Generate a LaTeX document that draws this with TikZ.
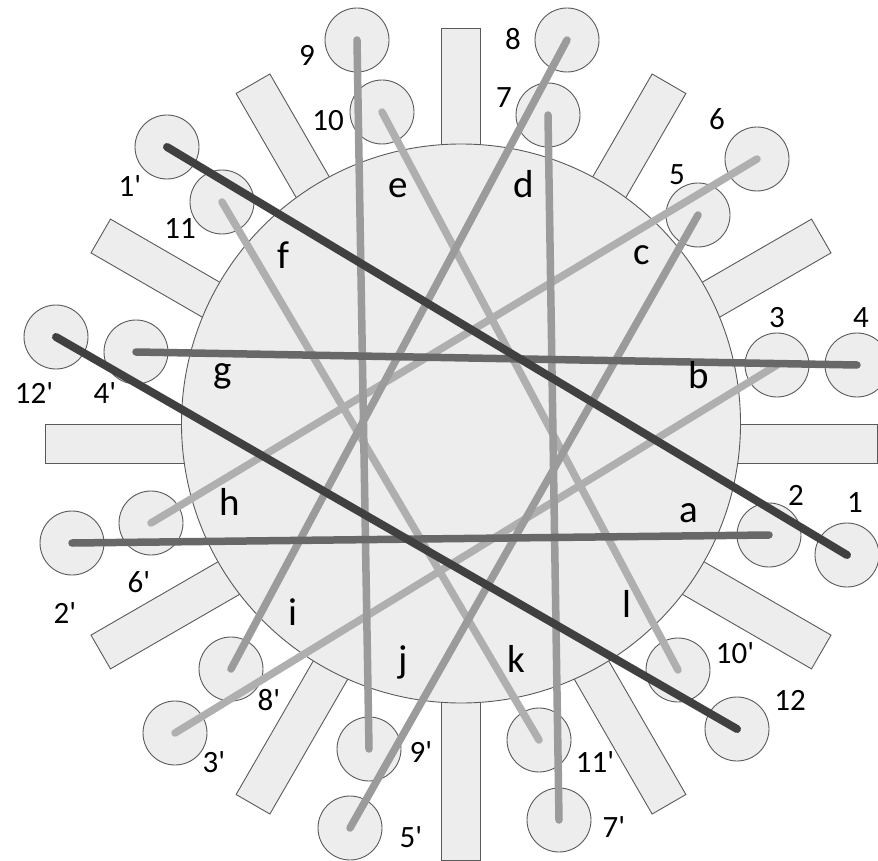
\documentclass[tikz,border=0pt]{standalone}
\usepackage{fontspec}
\setmainfont{Carlito}
\definecolor{panefill}{RGB}{237, 237, 237}
\definecolor{edgegray}{RGB}{90, 90, 90}
\definecolor{wiredark}{RGB}{64, 64, 64}
\definecolor{wiremid}{RGB}{104, 104, 104}
\definecolor{wiregray}{RGB}{155, 155, 155}
\definecolor{wirelight}{RGB}{175, 175, 175}
\newcommand{\pr}[1]{#1\textquotesingle}

\begin{document}
\begin{tikzpicture}[
    x=1pt, y=-1pt,
    spoke/.style={
        draw=edgegray,
        fill=panefill,
        line width=0.9pt,
        minimum width=832pt,
        minimum height=39pt,
        inner sep=0pt,
    },
    hub/.style={
        draw=edgegray,
        fill=panefill,
        line width=0.9pt,
        circle,
        inner sep=0pt,
        minimum size=559pt,
    },
    knob/.style={
        draw=edgegray,
        fill=panefill,
        line width=0.9pt,
        circle,
        inner sep=0pt,
        minimum size=64pt,
    },
    wire/.style={line width=7.5pt, line cap=round},
    darkwire/.style={wire, draw=wiredark, line width=8pt},
    midwire/.style={wire, draw=wiremid},
    graywire/.style={wire, draw=wiregray},
    lightwire/.style={wire, draw=wirelight},
    numlbl/.style={anchor=base, inner sep=0pt, font=\fontsize{31}{31}\selectfont},
    letlbl/.style={anchor=base, inner sep=0pt, font=\fontsize{39}{39}\selectfont},
]
\useasboundingbox (0,0) rectangle (878,861);

% -- Spokes behind the hub
\coordinate (spokec) at (461, 444);
\node[spoke] (spk0) at (spokec) {};
\node[spoke, rotate=30] (spk30) at (spokec) {};
\node[spoke, rotate=60] (spk60) at (spokec) {};
\node[spoke, rotate=90] (spk90) at (spokec) {};
\node[spoke, rotate=120] (spk120) at (spokec) {};
\node[spoke, rotate=150] (spk150) at (spokec) {};

% -- Hub
\node[hub] (hub) at (461, 423.5) {};

% -- Knobs, unprimed
\node[knob] (n1) at (847, 555) {};
\node[knob] (n2) at (769, 535) {};
\node[knob] (n3) at (777, 365) {};
\node[knob] (n4) at (857, 365) {};
\node[knob] (n5) at (698, 215) {};
\node[knob] (n6) at (757, 159) {};
\node[knob] (n7) at (548, 115) {};
\node[knob] (n8) at (567, 40) {};
\node[knob] (n9) at (357, 40) {};
\node[knob] (n10) at (382, 112) {};
\node[knob] (n11) at (222, 202) {};
\node[knob] (n12) at (737, 729) {};

% -- Knobs, primed
\node[knob] (n1p) at (167, 147) {};
\node[knob] (n2p) at (72, 543) {};
\node[knob] (n3p) at (175, 733) {};
\node[knob] (n4p) at (136, 352) {};
\node[knob] (n5p) at (350, 828) {};
\node[knob] (n6p) at (151, 523) {};
\node[knob] (n7p) at (559, 820) {};
\node[knob] (n8p) at (231, 669) {};
\node[knob] (n9p) at (369, 749) {};
\node[knob] (n10p) at (678, 670) {};
\node[knob] (n11p) at (539, 740) {};
\node[knob] (n12p) at (56, 337) {};

% ===== Wires =====
\draw[lightwire] (n3.center) -- (n3p.center);
\draw[lightwire] (n6.center) -- (n6p.center);
\draw[lightwire] (n10.center) -- (n10p.center);
\draw[lightwire] (n11.center) -- (n11p.center);
\draw[graywire] (n5.center) -- (n5p.center);
\draw[graywire] (n8.center) -- (n8p.center);
\draw[graywire] (n7.center) -- (n7p.center);
\draw[graywire] (n9.center) -- (n9p.center);
\draw[midwire] (n2.center) -- (n2p.center);
\draw[midwire] (n4.center) -- (n4p.center);
\draw[darkwire] (n1.center) -- (n1p.center);
\draw[darkwire] (n12.center) -- (n12p.center);

% -- Knob labels
\node[numlbl] (t1) at (855, 512) {1};
\node[numlbl] (t2) at (796, 505) {2};
\node[numlbl] (t3) at (777, 327) {3};
\node[numlbl] (t4) at (861, 327) {4};
\node[numlbl] (t5) at (677, 185) {5};
\node[numlbl] (t6) at (717, 130) {6};
\node[numlbl] (t7) at (504, 108) {7};
\node[numlbl] (t8) at (513, 50) {8};
\node[numlbl] (t9) at (307, 66) {9};
\node[numlbl] (t10) at (328, 131) {10};
\node[numlbl] (t11) at (180, 238) {11};
\node[numlbl] (t12) at (790, 710) {12};
\node[numlbl] (t1p) at (130, 197) {\pr{1}};
\node[numlbl] (t2p) at (65, 623) {\pr{2}};
\node[numlbl] (t3p) at (214, 772) {\pr{3}};
\node[numlbl] (t4p) at (105, 403) {\pr{4}};
\node[numlbl] (t5p) at (411, 847) {\pr{5}};
\node[numlbl] (t6p) at (139, 592) {\pr{6}};
\node[numlbl] (t7p) at (614, 837) {\pr{7}};
\node[numlbl] (t8p) at (269, 710) {\pr{8}};
\node[numlbl] (t9p) at (421, 762) {\pr{9}};
\node[numlbl] (t10p) at (735, 663) {\pr{10}};
\node[numlbl] (t11p) at (595, 772) {\pr{11}};
\node[numlbl] (t12p) at (34, 403) {\pr{12}};

% -- Sector letters
\node[letlbl] (sa) at (689, 522) {a};
\node[letlbl] (sb) at (699, 388) {b};
\node[letlbl] (sc) at (642, 265) {c};
\node[letlbl] (sd) at (524, 198) {d};
\node[letlbl] (se) at (398, 198) {e};
\node[letlbl] (sf) at (283, 268) {f};
\node[letlbl] (sg) at (223, 382) {g};
\node[letlbl] (sh) at (230, 515) {h};
\node[letlbl] (si) at (293, 625) {i};
\node[letlbl] (sj) at (403, 672) {j};
\node[letlbl] (sk) at (516, 672) {k};
\node[letlbl] (sl) at (627, 617) {l};

\end{tikzpicture}
\end{document}
